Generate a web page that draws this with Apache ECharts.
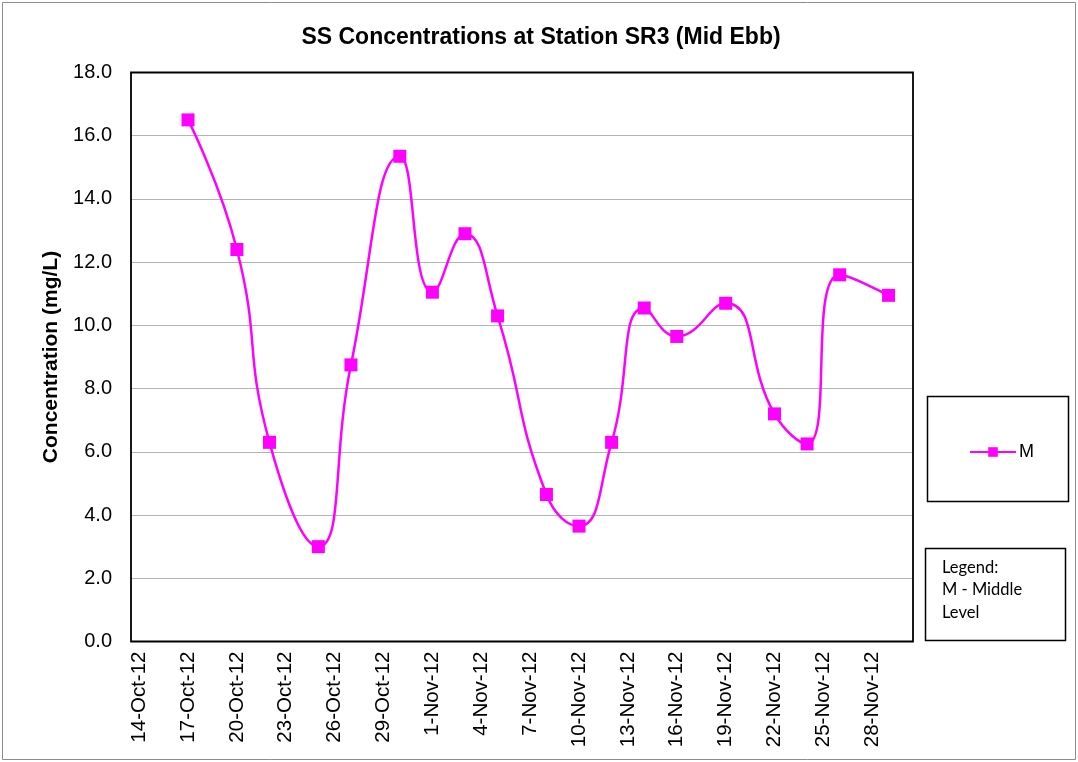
<!DOCTYPE html>
<html>
<head>
<meta charset="utf-8">
<title>SS Concentrations at Station SR3 (Mid Ebb)</title>
<script src="https://cdn.jsdelivr.net/npm/echarts@6/dist/echarts.min.js"></script>
<style>
  html, body { margin: 0; padding: 0; background: #fff; }
  #chart { width: 1078px; height: 762px; }
</style>
</head>
<body>
<div id="chart"></div>
<script>
// Sampling dates and suspended-solids readings (mg/L), middle level
const sampleDates = [
  '17-Oct-12', '20-Oct-12', '22-Oct-12', '25-Oct-12', '27-Oct-12', '30-Oct-12',
  '1-Nov-12', '3-Nov-12', '5-Nov-12', '8-Nov-12', '10-Nov-12', '12-Nov-12',
  '14-Nov-12', '16-Nov-12', '19-Nov-12', '22-Nov-12', '24-Nov-12', '26-Nov-12',
  '29-Nov-12'
];
const middleLevel = [
  16.5, 12.4, 6.3, 3.0, 8.75, 15.35,
  11.05, 12.9, 10.3, 4.65, 3.65, 6.3,
  10.55, 9.65, 10.7, 7.2, 6.25, 11.6,
  10.95
];

// Daily axis span and value-axis ticks
const axisStart = '2012-10-14';
const axisEnd = '2012-11-30';
const yTicks = { min: 0, max: 18, step: 2 };

const monthNames = ['Jan','Feb','Mar','Apr','May','Jun','Jul','Aug','Sep','Oct','Nov','Dec'];
function dayLabel(d) {
  return d.getUTCDate() + '-' + monthNames[d.getUTCMonth()] + '-' + String(d.getUTCFullYear()).slice(2);
}
const dayCategories = [];
for (let t = Date.parse(axisStart); t <= Date.parse(axisEnd); t += 86400000) {
  dayCategories.push(dayLabel(new Date(t)));
}

// Plot frame geometry
const plot = { left: 131, top: 72.5, right: 913, bottom: 641.5 };

const chart = echarts.init(document.getElementById('chart'), null, { renderer: 'canvas' });

chart.setOption({
  backgroundColor: '#ffffff',
  animation: false,
  title: {
    text: 'SS Concentrations at Station SR3 (Mid Ebb)',
    left: 536,
    top: 21,
    textAlign: 'center',
    textStyle: { fontFamily: 'Liberation Sans', fontSize: 23, fontWeight: 'bold', color: '#000' }
  },
  legend: {
    left: 969,
    top: 443,
    padding: 0,
    itemWidth: 46,
    itemHeight: 12,
    itemGap: 0,
    textStyle: { fontFamily: 'Liberation Sans', fontSize: 18, color: '#000', padding: [0, 0, 0, -2] },
    data: ['M']
  },
  grid: {
    left: plot.left,
    right: 1078 - plot.right,
    top: plot.top,
    bottom: 762 - plot.bottom,
    show: false,
    containLabel: false
  },
  xAxis: {
    type: 'category',
    data: dayCategories,
    boundaryGap: true,
    axisLine: { show: false },
    axisTick: { show: false },
    splitLine: { show: false },
    axisLabel: {
      interval: 2,
      rotate: 90,
      margin: 10,
      fontFamily: 'Liberation Sans',
      fontSize: 20.5,
      color: '#000'
    }
  },
  yAxis: {
    type: 'value',
    min: yTicks.min,
    max: yTicks.max,
    interval: yTicks.step,
    name: 'Concentration (mg/L)',
    nameLocation: 'middle',
    nameGap: 67,
    nameRotate: 90,
    nameTextStyle: { fontFamily: 'Liberation Sans', fontSize: 21, fontWeight: 'bold', color: '#000' },
    axisLine: { show: false },
    axisTick: { show: false },
    splitLine: { show: true, lineStyle: { color: '#b4b4b4', width: 1 } },
    axisLabel: {
      margin: 19,
      fontFamily: 'Liberation Sans',
      fontSize: 20,
      color: '#000',
      formatter: v => v.toFixed(1)
    }
  },
  series: [{
    name: 'M',
    type: 'line',
    smooth: 0.5,
    data: sampleDates.map((d, i) => [d, middleLevel[i]]),
    symbol: 'rect',
    symbolSize: 13,
    showSymbol: true,
    showAllSymbol: true,
    itemStyle: { color: '#ff00ff' },
    lineStyle: { color: '#ff00ff', width: 2.5 },
    z: 3
  }],
  graphic: [
    {
      type: 'rect',
      shape: { x: 2.5, y: 2.5, width: 1073, height: 757 },
      style: { fill: 'none', stroke: '#8c8c8c', lineWidth: 1 },
      silent: true
    },
    {
      type: 'rect',
      shape: { x: plot.left, y: plot.top, width: plot.right - plot.left, height: plot.bottom - plot.top },
      style: { fill: 'none', stroke: '#000', lineWidth: 1.8 },
      z: 1,
      silent: true
    },
    {
      type: 'rect',
      shape: { x: 927.5, y: 396.5, width: 141, height: 105 },
      style: { fill: 'none', stroke: '#000', lineWidth: 1.5 },
      silent: true
    },
    {
      type: 'rect',
      shape: { x: 925.5, y: 548.5, width: 140, height: 92 },
      style: { fill: 'none', stroke: '#000', lineWidth: 1.5 },
      silent: true
    },
    {
      type: 'text',
      left: 942,
      top: 556,
      style: {
        text: 'Legend:\nM - Middle\nLevel',
        fontFamily: 'Lato',
        fontSize: 16.5,
        lineHeight: 22.5,
        fill: '#000'
      },
      silent: true
    }
  ]
});
</script>
</body>
</html>
